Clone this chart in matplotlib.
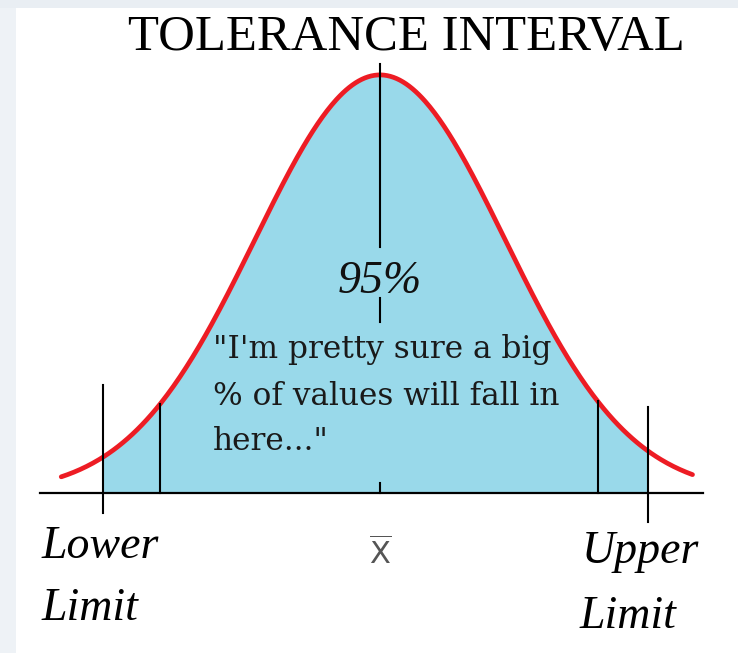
import numpy as np
import matplotlib
matplotlib.use("Agg")
import matplotlib.pyplot as plt
from matplotlib.patches import Rectangle

# bell curve in standard-deviation units
curve_range = (-2.55, 2.5)
axis_range = (-2.72, 2.58)
lower_limit, upper_limit = -2.22, 2.14
inner_lines = [-1.76, 1.74]

# vertical marks: (x, bottom, top) in density units
lower_mark = (lower_limit, -0.019, 0.103)
upper_mark = (upper_limit, -0.028, 0.082)
center_segments = [(0.0, 0.235, 0.409), (0.0, 0.163, 0.186), (0.0, 0.0, 0.0095)]

title = "TOLERANCE INTERVAL"
pct_label = "95%"
quote_lines = ['"I\'m pretty sure a big', "% of values will fall in", 'here..."']
quote_x = -1.336
quote_y = [0.129, 0.084, 0.041]


def pdf(x):
    return np.exp(-x ** 2 / 2) / np.sqrt(2 * np.pi)


fig = plt.figure(figsize=(7.38, 6.53), dpi=100, facecolor="white")
ax = fig.add_axes([0, 0, 1, 1])
ax.set_xlim(-380 / 125, (738 - 380) / 125)
ax.set_ylim(-(653 - 493) / 1048, 493 / 1048)
ax.axis("off")

# page edge strips
fig.patches.append(Rectangle((0, 0), 16 / 738, 1, transform=fig.transFigure,
                             facecolor="#eef2f6", edgecolor="none", zorder=0))
fig.patches.append(Rectangle((0, 1 - 8 / 653), 1, 8 / 653, transform=fig.transFigure,
                             facecolor="#e9eef3", edgecolor="none", zorder=0))

xs = np.linspace(*curve_range, 400)
xf = np.linspace(lower_limit, upper_limit, 400)
ax.fill_between(xf, 0, pdf(xf), color="#99d9ea", lw=0, zorder=1)
ax.plot(axis_range, [0, 0], color="black", lw=1.6, zorder=2)
ax.plot(xs, pdf(xs), color="#ed1c24", lw=3.4, solid_capstyle="round", zorder=3)

for x in inner_lines:
    ax.plot([x, x], [0, pdf(x)], color="black", lw=1.5, zorder=4)
for x, y0, y1 in [lower_mark, upper_mark] + center_segments:
    ax.plot([x, x], [y0, y1], color="black", lw=1.5, zorder=4)

ax.text(0.21, 0.4227, title, ha="center", va="baseline", fontsize=36.5,
        family="Liberation Serif", color="black")
ax.text(0.0, 0.191, pct_label, ha="center", va="baseline", fontsize=33,
        family="Liberation Serif", style="italic", color="#111")
for line, y in zip(quote_lines, quote_y):
    ax.text(quote_x, y, line, ha="left", va="baseline", fontsize=22.5,
            family="DejaVu Serif", color="#1a1a1a")

ax.text(-2.704, -0.062, "Lower", ha="left", va="baseline", fontsize=33,
        family="Liberation Serif", style="italic", color="black")
ax.text(-2.704, -0.121, "Limit", ha="left", va="baseline", fontsize=33,
        family="Liberation Serif", style="italic", color="black")
ax.text(1.616, -0.0668, "Upper", ha="left", va="baseline", fontsize=33,
        family="Liberation Serif", style="italic", color="black")
ax.text(1.6, -0.129, "Limit", ha="left", va="baseline", fontsize=33,
        family="Liberation Serif", style="italic", color="black")

plt.rcParams["mathtext.fontset"] = "dejavusans"
ax.text(0.0, -0.0687, r"$\overline{\mathrm{X}}$", ha="center", va="baseline",
        fontsize=22, color="#555555")

fig.savefig("out.png", dpi=100, facecolor="white")
